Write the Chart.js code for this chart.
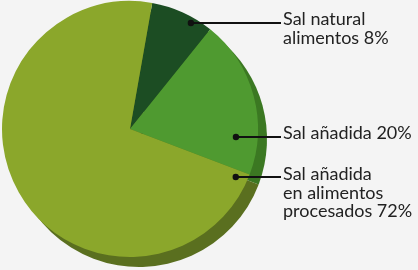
<!DOCTYPE html>
<html>
<head>
<meta charset="utf-8">
<style>
  html, body { margin: 0; padding: 0; background: #f4f4f4; }
  #wrap { width: 418px; height: 270px; position: relative; }
</style>
<script src="https://cdn.jsdelivr.net/npm/chart.js@4/dist/chart.umd.min.js"></script>
</head>
<body>
<div id="wrap"><canvas id="saltChart"></canvas></div>
<script>
// data
var categories = ['Sal natural alimentos', 'Sal añadida', 'Sal añadida en alimentos procesados'];
var percents = [8, 20, 72];
var labelLines = [
  ['Sal natural', 'alimentos 8%'],
  ['Sal añadida 20%'],
  ['Sal añadida', 'en alimentos', 'procesados 72%']
];

var faceColors = ['#1c4d23', '#4f9a30', '#8ba72b'];
var sideColors = ['#153a1a', '#3b7822', '#5a6f1f'];

// where each leader line starts (angle from top, fraction of radius) and where its text sits
var callouts = [
  { angle: 29.7, frac: 0.96, lineY: 23, textY: 25 },
  { angle: 94.3, frac: 0.83, lineY: 137, textY: 139 },
  { angle: 114.8, frac: 0.91, lineY: 177, textY: 180 }
];

var depthPlugin = {
  id: 'depth',
  beforeDatasetsDraw: function(chart) {
    var ctx = chart.ctx;
    var arcs = chart.getDatasetMeta(0).data;
    ctx.save();
    for (var i = 0; i < arcs.length; i++) {
      var a = arcs[i];
      ctx.beginPath();
      ctx.moveTo(a.x + 9, a.y + 10);
      ctx.arc(a.x + 9, a.y + 10, a.outerRadius, a.startAngle, a.endAngle);
      ctx.closePath();
      ctx.fillStyle = sideColors[i];
      ctx.fill();
    }
    ctx.restore();
  }
};

var calloutPlugin = {
  id: 'callouts',
  afterDraw: function(chart) {
    var ctx = chart.ctx;
    var a = chart.getDatasetMeta(0).data[0];
    ctx.save();
    ctx.font = '18px Lato';
    ctx.textBaseline = 'alphabetic';
    for (var i = 0; i < callouts.length; i++) {
      var c = callouts[i];
      var rad = c.angle * Math.PI / 180;
      var px = a.x + Math.sin(rad) * a.outerRadius * c.frac;
      var py = a.y - Math.cos(rad) * a.outerRadius * c.frac;
      ctx.strokeStyle = '#111';
      ctx.lineWidth = 2;
      ctx.beginPath();
      ctx.moveTo(px, c.lineY);
      ctx.lineTo(281, c.lineY);
      ctx.stroke();
      ctx.fillStyle = '#111';
      ctx.beginPath();
      ctx.arc(px, c.lineY, 3.2, 0, Math.PI * 2);
      ctx.fill();
      ctx.fillStyle = '#222';
      for (var j = 0; j < labelLines[i].length; j++) {
        ctx.fillText(labelLines[i][j], 283, c.textY + j * 18.5);
      }
    }
    ctx.restore();
  }
};

var chart = new Chart(document.getElementById('saltChart'), {
  type: 'pie',
  data: {
    labels: categories,
    datasets: [{
      data: percents,
      backgroundColor: faceColors,
      borderWidth: 0
    }]
  },
  options: {
    responsive: true,
    maintainAspectRatio: false,
    animation: false,
    rotation: 10,
    layout: { padding: { left: 2, top: 1, right: 160, bottom: 13 } },
    plugins: {
      legend: { display: false },
      tooltip: { enabled: false }
    }
  },
  plugins: [depthPlugin, calloutPlugin]
});
</script>
</body>
</html>
